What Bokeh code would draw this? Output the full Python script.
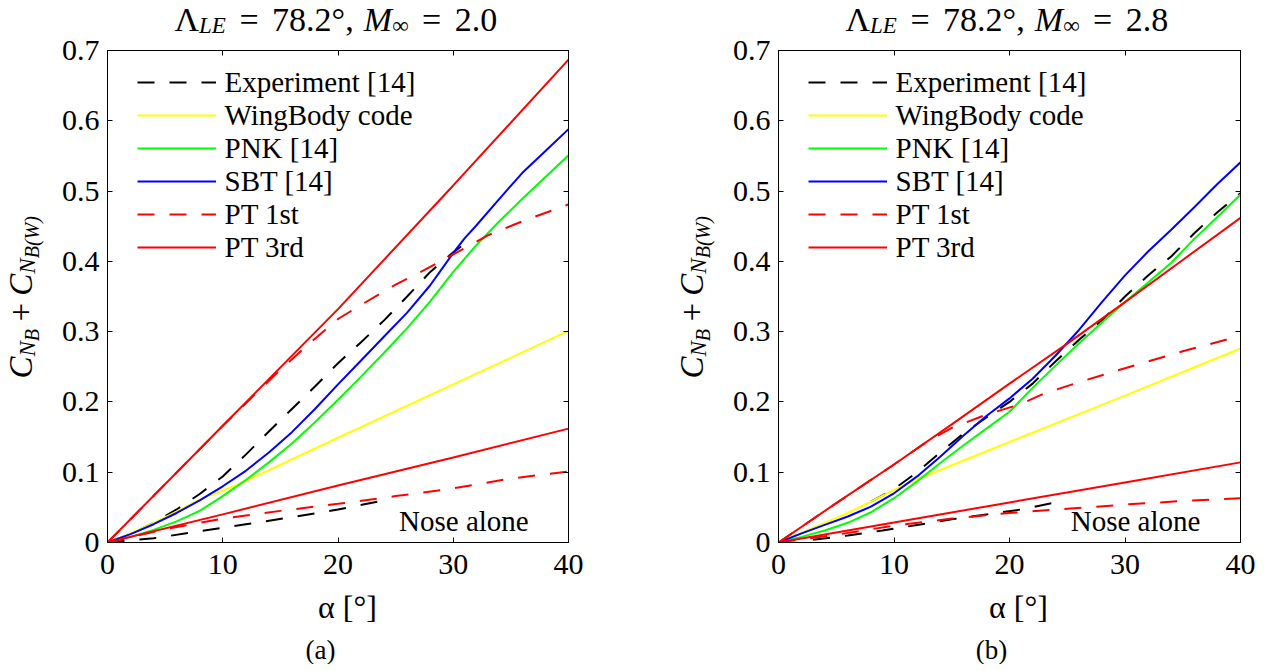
import math
from bokeh.plotting import figure
from bokeh.models import (Range1d, LinearAxis, FixedTicker, CustomJSTickFormatter,
                          Label, Legend, LegendItem)
from bokeh.layouts import row, column
from bokeh.embed import file_html
from bokeh.resources import INLINE

# ---------------- shared labels ----------------
X_TICKS = [0, 10, 20, 30, 40]
Y_TICKS = [0, 0.1, 0.2, 0.3, 0.4, 0.5, 0.6, 0.7]
LEGEND_LABELS = ["Experiment [14]", "WingBody code", "PNK [14]", "SBT [14]", "PT 1st", "PT 3rd"]
NOTE_TEXT = "Nose alone"
NOTE_POS = (25.3, 0.0171)

# ---------------- data: panel (a)  Lambda_LE = 78.2 deg, M = 2.0 ----------------
a_exp_x = [0, 2, 4, 6, 8, 10, 12, 14, 16, 18, 20, 22, 24, 26, 28, 30, 31.5]
a_exp_y = [0, 0.012, 0.028, 0.047, 0.069, 0.094, 0.125, 0.158, 0.19, 0.222, 0.255, 0.285, 0.316, 0.35, 0.385, 0.413, 0.431]
a_wb_x = [0, 2, 4, 6, 8, 10, 11, 20, 30, 40]
a_wb_y = [0, 0.013, 0.028, 0.044, 0.061, 0.074, 0.08, 0.149, 0.225, 0.301]
a_pnk_x = [0, 2, 4, 6, 8, 10, 12, 14, 16, 18, 20, 22, 24, 26, 28, 30, 32, 34, 36, 38, 40]
a_pnk_y = [0, 0.008, 0.018, 0.03, 0.045, 0.066, 0.089, 0.114, 0.141, 0.171, 0.203, 0.236, 0.27, 0.305, 0.343, 0.385, 0.423, 0.457, 0.489, 0.52, 0.551]
a_sbt_x = [0, 2, 4, 6, 8, 10, 12, 14, 16, 18, 20, 22, 24, 26, 28, 29, 30, 31, 32, 34, 36, 38, 40]
a_sbt_y = [0, 0.012, 0.026, 0.042, 0.06, 0.08, 0.102, 0.128, 0.157, 0.19, 0.225, 0.259, 0.293, 0.327, 0.366, 0.389, 0.412, 0.433, 0.451, 0.489, 0.526, 0.557, 0.588]
a_pt1_x = [0, 5, 10, 15, 18, 20, 22, 25, 28, 30, 33, 36, 40]
a_pt1_y = [0, 0.083, 0.166, 0.246, 0.29, 0.318, 0.338, 0.367, 0.392, 0.41, 0.437, 0.457, 0.481]
a_pt3_x = [0, 10, 20, 30, 40]
a_pt3_y = [0, 0.166, 0.332, 0.508, 0.687]
# nose alone (a)
a_nexp_x = [0, 4, 8, 12, 16, 20, 24]
a_nexp_y = [0, 0.006, 0.016, 0.026, 0.036, 0.047, 0.06]
a_npt1_x = [0, 5, 10, 15, 20, 25, 30, 35, 40]
a_npt1_y = [0, 0.019, 0.034, 0.045, 0.055, 0.066, 0.077, 0.091, 0.101]
a_npt3_x = [0, 10, 20, 30, 40]
a_npt3_y = [0, 0.04, 0.081, 0.121, 0.162]

# ---------------- data: panel (b)  Lambda_LE = 78.2 deg, M = 2.8 ----------------
b_exp_x = [8, 10, 12, 14, 16, 18, 20, 22, 24, 26, 28, 30, 32, 34, 36, 38, 40]
b_exp_y = [0.058, 0.076, 0.1, 0.128, 0.155, 0.178, 0.2, 0.226, 0.258, 0.288, 0.316, 0.35, 0.38, 0.407, 0.44, 0.47, 0.497]
b_wb_x = [0, 2, 4, 6, 8, 10, 12, 20, 30, 40]
b_wb_y = [0, 0.014, 0.028, 0.042, 0.058, 0.075, 0.09, 0.143, 0.209, 0.276]
b_pnk_x = [0, 2, 4, 6, 8, 10, 12, 14, 16, 18, 20, 22, 24, 26, 28, 30, 32, 34, 36, 38, 40]
b_pnk_y = [0, 0.008, 0.017, 0.028, 0.043, 0.063, 0.087, 0.113, 0.138, 0.162, 0.186, 0.22, 0.252, 0.283, 0.313, 0.342, 0.37, 0.398, 0.432, 0.463, 0.495]
b_sbt_x = [0, 2, 4, 6, 8, 10, 12, 14, 16, 18, 20, 22, 24, 26, 28, 30, 32, 34, 36, 38, 40]
b_sbt_y = [0, 0.013, 0.025, 0.037, 0.051, 0.07, 0.094, 0.122, 0.152, 0.18, 0.205, 0.233, 0.266, 0.302, 0.342, 0.38, 0.414, 0.445, 0.477, 0.51, 0.541]
b_pt1_x = [0, 5, 10, 13, 15, 18, 21, 23, 26, 30, 35, 40]
b_pt1_y = [0, 0.056, 0.111, 0.145, 0.163, 0.182, 0.197, 0.212, 0.228, 0.248, 0.272, 0.294]
b_pt3_x = [0, 5, 10, 15, 20, 25, 30, 35, 40]
b_pt3_y = [0, 0.056, 0.111, 0.168, 0.226, 0.283, 0.342, 0.402, 0.462]
# nose alone (b)
b_nexp_x = [3, 6, 9, 12, 15, 18, 21, 24]
b_nexp_y = [0.004, 0.01, 0.017, 0.025, 0.033, 0.04, 0.047, 0.057]
b_npt1_x = [0, 5, 10, 15, 20, 25, 30, 35, 40]
b_npt1_y = [0, 0.011, 0.024, 0.034, 0.042, 0.048, 0.054, 0.059, 0.063]
b_npt3_x = [0, 10, 20, 30, 40]
b_npt3_y = [0, 0.0285, 0.057, 0.0855, 0.114]

SERIF = "Liberation Serif"
COLORS = ["black", "#ffff00", "#00ff00", "#0000ff", "#ff0000", "#ff0000"]
DASHES = ["17 15", "solid", "solid", "solid", "17 15", "solid"]
NOSE_COLORS = ["black", "#ff0000", "#ff0000"]
NOSE_DASHES = ["17 15", "17 15", "solid"]

TOP_H = 38
MAIN_TOP, FRAME_H, MAIN_BOTTOM = 12, 492, 46
MAIN_H = MAIN_TOP + FRAME_H + MAIN_BOTTOM
BOT_H = 76
FRAME_W_A, FRAME_W_B = 461, 462
K = 0.333        # baseline correction (fraction of font size)
ALONG = 46.0     # correction along rotated text


def add_text(p, text, x, y, size, italic=False, angle=0.0, align="left"):
    if angle == 0:
        y = y + K * size
    else:
        x = x - K * size
        y = y - ALONG
    p.add_layout(Label(x=x, y=y, x_units="screen", y_units="screen", text=text,
                       text_font=SERIF, text_font_size=f"{size}px",
                       text_font_style="italic" if italic else "normal",
                       text_color="black", angle=angle, text_align=align,
                       text_baseline="alphabetic"))


def blank(w, h):
    f = figure(width=w, height=h, output_backend="svg", toolbar_location=None,
               x_range=Range1d(0, w), y_range=Range1d(0, h), min_border=0,
               x_axis_location=None, y_axis_location=None)
    f.grid.visible = False
    f.outline_line_color = None
    f.background_fill_color = "white"
    f.border_fill_color = "white"
    return f


def style_axis(ax, ticks, blank_labels=False, standoff=8):
    ax.ticker = FixedTicker(ticks=ticks)
    ax.axis_line_color = "black"
    ax.axis_line_width = 1
    ax.major_tick_line_color = "black"
    ax.major_tick_in = 5
    ax.major_tick_out = 0
    ax.minor_tick_in = 0
    ax.minor_tick_out = 0
    ax.major_label_text_font = SERIF
    ax.major_label_text_color = "black"
    ax.major_label_standoff = standoff
    if blank_labels:
        ax.major_label_text_font_size = "1px"
        ax.formatter = CustomJSTickFormatter(code="return ''")
    else:
        ax.major_label_text_font_size = "30px"
        ax.formatter = CustomJSTickFormatter(
            code="return tick == 0 ? '0' : (Number.isInteger(tick) ? tick.toFixed(0) : tick.toFixed(1))")


def panel(series, nose, mach, letter, total_w, ylab_w, main_left, frame_w):
    main_w = total_w - ylab_w
    off = ylab_w + main_left          # frame left measured from the panel's left edge

    # ---------- main plot ----------
    p = figure(width=main_w, height=MAIN_H, output_backend="svg", toolbar_location=None,
               x_range=Range1d(0, 40), y_range=Range1d(0, 0.7),
               min_border_left=main_left, min_border_right=main_w - main_left - frame_w,
               min_border_top=MAIN_TOP, min_border_bottom=MAIN_BOTTOM,
               x_axis_location=None, y_axis_location=None)
    p.grid.visible = False
    p.outline_line_color = "black"
    p.background_fill_color = "white"
    p.border_fill_color = "white"

    xb = LinearAxis(); style_axis(xb, X_TICKS, standoff=12); p.add_layout(xb, "below")
    yl = LinearAxis(); style_axis(yl, Y_TICKS, standoff=8); p.add_layout(yl, "left")
    xt = LinearAxis(); style_axis(xt, X_TICKS, blank_labels=True, standoff=0); p.add_layout(xt, "above")
    yr = LinearAxis(); style_axis(yr, Y_TICKS, blank_labels=True, standoff=0); p.add_layout(yr, "right")

    renderers = []
    for (xs, ys), col, dash in zip(series, COLORS, DASHES):
        renderers.append(p.line(xs, ys, line_color=col, line_width=2, line_dash=dash))
    for (xs, ys), col, dash in zip(nose, NOSE_COLORS, NOSE_DASHES):
        p.line(xs, ys, line_color=col, line_width=2, line_dash=dash)

    legend = Legend(items=[LegendItem(label=lab, renderers=[r]) for lab, r in zip(LEGEND_LABELS, renderers)],
                    location=(29.5, 278.5), padding=0, margin=0, spacing=0,
                    glyph_width=79, glyph_height=32, label_height=32, label_standoff=9,
                    label_text_font=SERIF, label_text_font_size="29px", label_text_color="black",
                    background_fill_alpha=0, border_line_alpha=0)
    p.add_layout(legend)
    p.add_layout(Label(x=NOTE_POS[0], y=NOTE_POS[1], y_offset=K * 29, text=NOTE_TEXT, text_font=SERIF,
                       text_font_size="29px", text_color="black", text_baseline="alphabetic"))

    # ---------- title strip:  Λ_LE = 78.2°, M∞ = mach ----------
    t = blank(total_w, TOP_H)
    F, S = 34, 23
    yb, ysub = TOP_H - 30.5, TOP_H - 32.8
    g = 13.5
    x = off + 67.0
    add_text(t, "Λ", x, yb, F); x += 0.722 * F
    add_text(t, "LE", x, ysub, S, italic=True); x += 1.167 * S + g
    add_text(t, "=", x, yb, F); x += 0.564 * F + g
    add_text(t, "78.2°,", x, yb, F); x += (1.75 + 0.4 + 0.25) * F + 0.3 * F
    add_text(t, "M", x, yb, F, italic=True); x += 0.833 * F
    add_text(t, "∞", x, ysub, S); x += 0.713 * S + g
    add_text(t, "=", x, yb, F); x += 0.564 * F + g
    add_text(t, mach, x, yb, F)

    # ---------- y label strip:  C_{N_B} + C_{N_B(W)} ----------
    yl_fig = blank(ylab_w, MAIN_H)
    A = math.pi / 2
    Mf, Nf, Bf = 33, 23, 20
    cx, nx, bx = off - 76, off - 72.5, off - 69
    u = MAIN_H - (378.0 - TOP_H)   # text starts at page y = 378
    add_text(yl_fig, "C", cx, u, Mf, italic=True, angle=A); u += 0.667 * Mf
    add_text(yl_fig, "N", nx, u, Nf, italic=True, angle=A); u += 0.667 * Nf
    add_text(yl_fig, "B", bx, u, Bf, italic=True, angle=A); u += 0.611 * Bf + 0.222 * Mf
    add_text(yl_fig, "+", cx, u, Mf, angle=A); u += 0.564 * Mf + 0.222 * Mf
    add_text(yl_fig, "C", cx, u, Mf, italic=True, angle=A); u += 0.667 * Mf
    add_text(yl_fig, "N", nx, u, Nf, italic=True, angle=A); u += 0.667 * Nf
    add_text(yl_fig, "B(W)", bx, u, Bf, italic=True, angle=A)

    # ---------- x label strip ----------
    xl = blank(total_w, BOT_H)
    add_text(xl, "α [°]", off + 240, 46.5, 32, align="center")
    add_text(xl, f"({letter})", off + 213, 6, 27, align="center")

    return column(t, row(yl_fig, p), xl)


pa = panel([(a_exp_x, a_exp_y), (a_wb_x, a_wb_y), (a_pnk_x, a_pnk_y), (a_sbt_x, a_sbt_y),
            (a_pt1_x, a_pt1_y), (a_pt3_x, a_pt3_y)],
           [(a_nexp_x, a_nexp_y), (a_npt1_x, a_npt1_y), (a_npt3_x, a_npt3_y)],
           "2.0", "a", 640, 50, 57, FRAME_W_A)
pb = panel([(b_exp_x, b_exp_y), (b_wb_x, b_wb_y), (b_pnk_x, b_pnk_y), (b_sbt_x, b_sbt_y),
            (b_pt1_x, b_pt1_y), (b_pt3_x, b_pt3_y)],
           [(b_nexp_x, b_nexp_y), (b_npt1_x, b_npt1_y), (b_npt3_x, b_npt3_y)],
           "2.8", "b", 626, 80, 58, FRAME_W_B)

layout = row(pa, pb)
open("out.html", "w").write(file_html(layout, INLINE))
